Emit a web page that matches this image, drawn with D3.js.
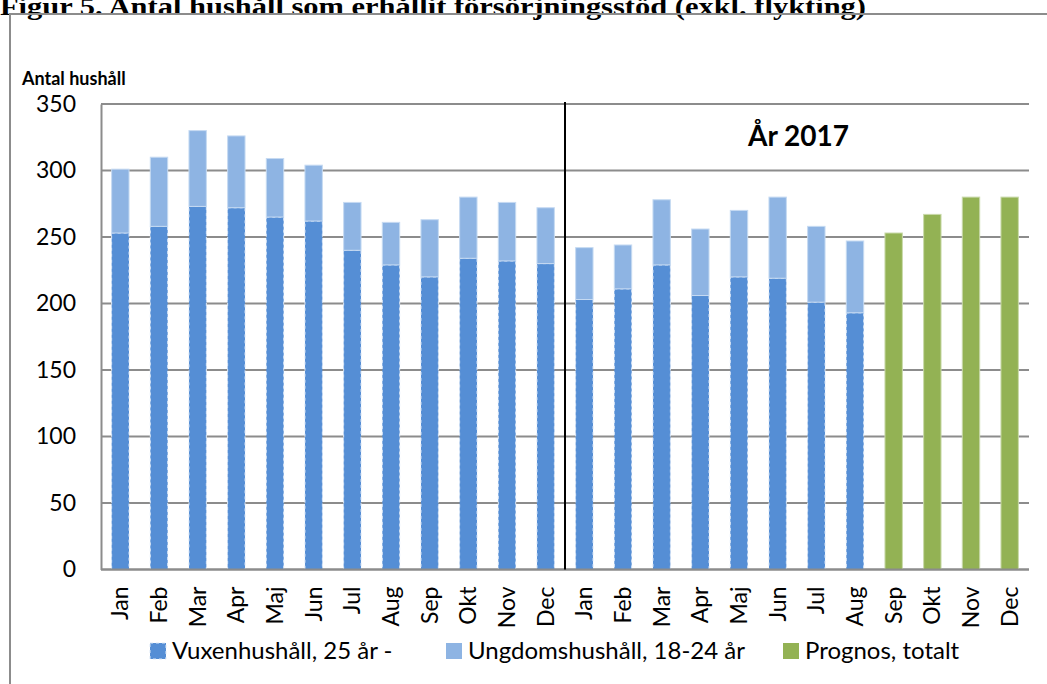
<!DOCTYPE html>
<html>
<head>
<meta charset="utf-8">
<script src="https://cdn.jsdelivr.net/npm/d3@7"></script>
<style>
  body { margin: 0; background: #fff; }
  svg { display: block; }
</style>
</head>
<body>
<div id="chart"></div>
<script>
// month labels for the 24 bars (2016 Jan..Dec, 2017 Jan..Dec)
const monthLabels = ["Jan","Feb","Mar","Apr","Maj","Jun","Jul","Aug","Sep","Okt","Nov","Dec",
                     "Jan","Feb","Mar","Apr","Maj","Jun","Jul","Aug","Sep","Okt","Nov","Dec"];
// Vuxenhushåll, 25 år - (0 where no observed data)
const adultValues = [253,258,273,272,265,262,240,229,220,234,232,230,
                     203,211,229,206,220,219,201,193,0,0,0,0];
// Ungdomshushåll, 18-24 år
const youthValues = [48,52,57,54,44,42,36,32,43,46,44,42,
                     39,33,49,50,50,61,57,54,0,0,0,0];
// Prognos, totalt
const prognosValues = [0,0,0,0,0,0,0,0,0,0,0,0,
                       0,0,0,0,0,0,0,0,253,267,280,280];
const yTicks = [0,50,100,150,200,250,300,350];
const seriesNames = ["Vuxenhushåll, 25 år -","Ungdomshushåll, 18-24 år","Prognos, totalt"];

const W = 1047, H = 684;
const margin = {left: 101, right: 18, top: 104, bottom: 114.5};
const colors = {adult: "#558ed5", youth: "#8eb4e3", prognos: "#93b254"};
const font = "Lato, 'Open Sans', sans-serif";

const svg = d3.select("#chart").append("svg")
  .attr("width", W).attr("height", H);

// page title (cut off at the top in the original)
svg.append("text")
  .attr("x", 0).attr("y", 15)
  .attr("font-family", "'Liberation Serif', serif")
  .attr("font-weight", "bold")
  .attr("font-size", 25)
  .attr("textLength", 866)
  .attr("lengthAdjust", "spacingAndGlyphs")
  .text("Figur 5. Antal hushåll som erhållit försörjningsstöd (exkl. flykting)");

// outer frame
svg.append("rect")
  .attr("x", 10).attr("y", 14)
  .attr("width", W + 20).attr("height", H + 20)
  .attr("fill", "none")
  .attr("stroke", "#8c8c8c")
  .attr("stroke-width", 2);

const data = monthLabels.map((m, i) => ({
  i: i, label: m, adult: adultValues[i], youth: youthValues[i], prognos: prognosValues[i]
}));

const x = d3.scaleBand()
  .domain(d3.range(monthLabels.length))
  .range([margin.left, W - margin.right])
  .paddingInner(0.55)
  .paddingOuter(0.275);

const y = d3.scaleLinear()
  .domain([0, 350])
  .range([H - margin.bottom, margin.top]);

// gridlines
svg.append("g")
  .selectAll("line")
  .data(yTicks)
  .join("line")
  .attr("x1", margin.left).attr("x2", W - margin.right)
  .attr("y1", d => y(d)).attr("y2", d => y(d))
  .attr("stroke", "#8c8c8c")
  .attr("stroke-width", 2);

// y axis
const yAxis = svg.append("g")
  .attr("transform", `translate(${margin.left},0)`)
  .call(d3.axisLeft(y).tickValues(yTicks).tickSize(0).tickPadding(25));
yAxis.select(".domain").attr("stroke", "#8c8c8c").attr("stroke-width", 2);
yAxis.selectAll("text")
  .attr("font-family", font)
  .attr("font-size", 23)
  .attr("fill", "#000");

svg.append("text")
  .attr("x", 22).attr("y", 85)
  .attr("font-family", font)
  .attr("font-weight", "bold")
  .attr("font-size", 18)
  .text("Antal hushåll");

// stacked bars
const stack = d3.stack().keys(["adult", "youth"]);
const layers = stack(data);

svg.append("g")
  .selectAll("g")
  .data(layers)
  .join("g")
  .attr("fill", d => colors[d.key])
  .selectAll("rect")
  .data(d => d.filter(v => v[1] > v[0]).map(v => Object.assign(v, {key: d.key})))
  .join("rect")
  .attr("x", d => x(d.data.i))
  .attr("width", x.bandwidth())
  .attr("y", d => y(d[1]))
  .attr("height", d => y(d[0]) - y(d[1]))
  .attr("stroke", d => d.key === "adult" ? "#dce8f7" : "#c6daf2")
  .attr("stroke-width", 1)
  .attr("stroke-dasharray", d => d.key === "adult" ? "3,3" : null);

svg.append("g")
  .selectAll("rect")
  .data(data.filter(d => d.prognos > 0))
  .join("rect")
  .attr("x", d => x(d.i))
  .attr("width", x.bandwidth())
  .attr("y", d => y(d.prognos))
  .attr("height", d => y(0) - y(d.prognos))
  .attr("fill", colors.prognos)
  .attr("stroke", "#c9d9aa")
  .attr("stroke-width", 1);

// x axis line
svg.append("line")
  .attr("x1", margin.left).attr("x2", W - margin.right)
  .attr("y1", y(0)).attr("y2", y(0))
  .attr("stroke", "#8c8c8c")
  .attr("stroke-width", 2);

// month labels, rotated
svg.append("g")
  .selectAll("text")
  .data(data)
  .join("text")
  .attr("transform", d => `translate(${x(d.i) + x.bandwidth() / 2 + 8},${y(0) + 17}) rotate(-90)`)
  .attr("text-anchor", "end")
  .attr("font-family", font)
  .attr("font-size", 23)
  .text(d => d.label);

// divider between 2016 and 2017
const splitX = x(12) - x.step() * x.paddingInner() / 2;
svg.append("line")
  .attr("x1", splitX).attr("x2", splitX)
  .attr("y1", y(350) - 2).attr("y2", y(0))
  .attr("stroke", "#000")
  .attr("stroke-width", 2);

svg.append("text")
  .attr("x", 748).attr("y", 146)
  .attr("font-family", font)
  .attr("font-weight", "bold")
  .attr("font-size", 28)
  .text("År 2017");

// legend
const legendItems = [
  {name: seriesNames[0], color: colors.adult, x: 150},
  {name: seriesNames[1], color: colors.youth, x: 446},
  {name: seriesNames[2], color: colors.prognos, x: 783}
];
const legend = svg.append("g").selectAll("g")
  .data(legendItems)
  .join("g")
  .attr("transform", d => `translate(${d.x},643)`);
legend.append("rect")
  .attr("width", 16).attr("height", 16)
  .attr("fill", d => d.color)
  .attr("stroke", d => d.name === seriesNames[0] ? "#dce8f7" : "none")
  .attr("stroke-dasharray", "3,3");
legend.append("text")
  .attr("x", 22).attr("y", 16)
  .attr("font-family", font)
  .attr("font-size", 24)
  .text(d => d.name);
</script>
</body>
</html>
